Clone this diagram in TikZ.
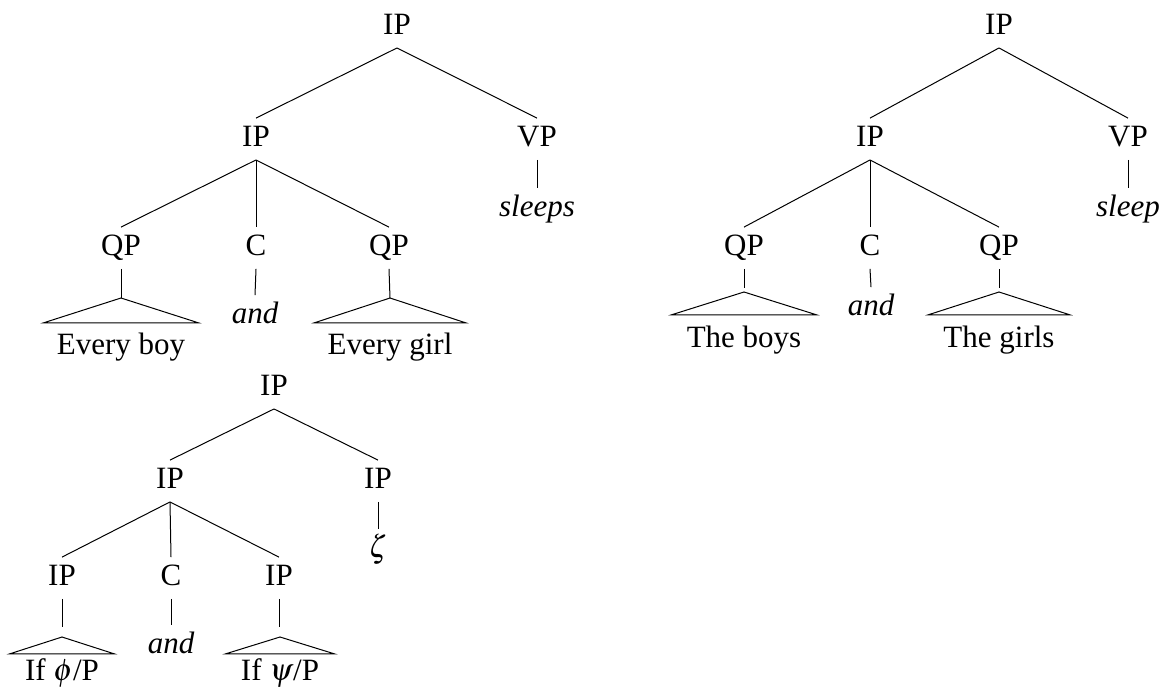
\documentclass[tikz,border=0pt]{standalone}
\usepackage{mathptmx}
\usepackage{fontspec}
\setmainfont{Liberation Serif}
\begin{document}
\begin{tikzpicture}[x=1pt,y=-1pt,
  lab/.style={font=\fontsize{31}{37}\selectfont, text height=21.7pt, text depth=7.75pt, inner xsep=2pt, inner ysep=6pt, anchor=base},
  roofa/.style={lab, inner xsep=13pt, inner ysep=9.3pt},
  roofb/.style={lab, inner xsep=15pt, inner ysep=10.3pt},
  roofc/.style={lab, inner xsep=15pt, inner ysep=4.3pt},
  br/.style={line width=1pt, line join=miter}]
\useasboundingbox (0,0) rectangle (1169,688);

% ---------- Tree 1 ----------
\node[lab] (t1r) at (397,34) {IP};
\node[lab] (t1i) at (256,146) {IP};
\node[lab] (t1v) at (537,146) {VP};
\node[lab] (t1s) at (537,216) {\itshape sleeps};
\node[lab] (t1q1) at (121,255) {QP};
\node[lab] (t1c) at (256,255) {C};
\node[lab] (t1q2) at (389,255) {QP};
\node[lab] (t1and) at (255,323) {\itshape and};
\node[roofa] (t1l1) at (121,354) {Every boy};
\node[roofa] (t1l2) at (390,354) {Every girl};
\coordinate (t1a1) at (121,298);
\coordinate (t1a2) at (390,298);
\draw[br] (t1r.south) -- (t1i.north);
\draw[br] (t1r.south) -- (t1v.north);
\draw[br] (t1v.south) -- (t1s.north);
\draw[br] (t1i.south) -- (t1q1.north);
\draw[br] (t1i.south) -- (t1c.north);
\draw[br] (t1i.south) -- (t1q2.north);
\draw[br] (t1c.south) -- (t1and.north);
\draw[br] (t1q1.south) -- (t1a1);
\draw[br] (t1q2.south) -- (t1a2);
\draw[br] (t1l1.north west) -- (t1a1) -- (t1l1.north east) -- cycle;
\draw[br] (t1l2.north west) -- (t1a2) -- (t1l2.north east) -- cycle;

% ---------- Tree 2 ----------
\node[lab] (t2r) at (999,34) {IP};
\node[lab] (t2i) at (870,146) {IP};
\node[lab] (t2v) at (1128,146) {VP};
\node[lab] (t2s) at (1128,216) {\itshape sleep};
\node[lab] (t2q1) at (744,255) {QP};
\node[lab] (t2c) at (870,255) {C};
\node[lab] (t2q2) at (999,255) {QP};
\node[lab] (t2and) at (871,315) {\itshape and};
\node[roofb] (t2l1) at (744,347) {The boys};
\node[roofb] (t2l2) at (999,347) {The girls};
\coordinate (t2e1) at (744,288);
\coordinate (t2e2) at (999,288);
\coordinate (t2a1) at (744,292);
\coordinate (t2a2) at (999,292);
\draw[br] (t2r.south) -- (t2i.north);
\draw[br] (t2r.south) -- (t2v.north);
\draw[br] (t2v.south) -- (t2s.north);
\draw[br] (t2i.south) -- (t2q1.north);
\draw[br] (t2i.south) -- (t2c.north);
\draw[br] (t2i.south) -- (t2q2.north);
\draw[br] (t2c.south) -- (t2and.north);
\draw[br] (t2q1.south) -- (t2e1);
\draw[br] (t2q2.south) -- (t2e2);
\draw[br] (t2l1.north west) -- (t2a1) -- (t2l1.north east) -- cycle;
\draw[br] (t2l2.north west) -- (t2a2) -- (t2l2.north east) -- cycle;

% ---------- Tree 3 ----------
\node[lab] (t3r) at (274,395) {IP};
\node[lab] (t3i) at (170,488) {IP};
\node[lab] (t3j) at (378,488) {IP};
\node[lab] (t3z) at (378,557) {$\zeta$};
\node[lab] (t3p1) at (62,585) {IP};
\node[lab] (t3c) at (171,585) {C};
\node[lab] (t3p2) at (279,585) {IP};
\node[lab] (t3and) at (171,653) {\itshape and};
\node[roofc] (t3l1) at (62,680) {If $\phi$/P};
\node[roofc] (t3l2) at (280,680) {If $\psi$/P};
\coordinate (t3e1) at (62,627);
\coordinate (t3e2) at (279,627);
\coordinate (t3a1) at (62,637);
\coordinate (t3a2) at (280,637);
\draw[br] (t3r.south) -- (t3i.north);
\draw[br] (t3r.south) -- (t3j.north);
\draw[br] (t3j.south) -- (t3z.north);
\draw[br] (t3i.south) -- (t3p1.north);
\draw[br] (t3i.south) -- (t3c.north);
\draw[br] (t3i.south) -- (t3p2.north);
\draw[br] (t3c.south) -- (t3and.north);
\draw[br] (t3p1.south) -- (t3e1);
\draw[br] (t3p2.south) -- (t3e2);
\draw[br] (t3l1.north west) -- (t3a1) -- (t3l1.north east) -- cycle;
\draw[br] (t3l2.north west) -- (t3a2) -- (t3l2.north east) -- cycle;
\end{tikzpicture}
\end{document}
